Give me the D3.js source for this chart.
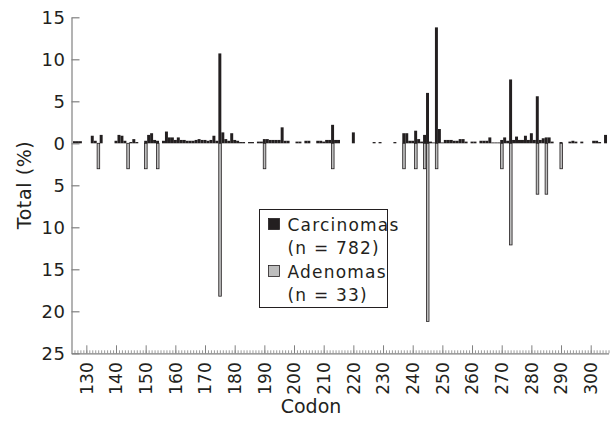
<!DOCTYPE html>
<html>
<head>
<meta charset="utf-8">
<script src="https://cdn.jsdelivr.net/npm/d3@7"></script>
<style>
	body { margin: 0; background: #fff; }
	text { font-family: 'DejaVu Sans', sans-serif; fill: #231f20; }
</style>
</head>
<body>
<div id="vis"></div>
<script>
// carcinomas (n = 782), % of mutations per codon
var carcCodons = [126, 127, 128, 132, 133, 135, 140, 141, 142, 143, 145, 146, 147,
	150, 151, 152, 153, 154, 156, 157, 158, 159, 160, 161, 162, 163, 164, 165, 166,
	167, 168, 169, 170, 171, 172, 173, 174, 175, 176, 177, 178, 179, 180, 181,
	182, 183, 185, 186, 188, 189, 190, 191, 192, 193, 194, 195, 196, 197, 198,
	201, 202, 204, 205, 208, 209, 210, 211, 212, 213, 214, 215, 220, 227, 229, 234,
	237, 238, 239, 240, 241, 242, 243, 244, 245, 246, 247, 248, 249, 250, 251, 252,
	253, 254, 255, 256, 257, 258, 260, 261, 263, 264, 265, 266, 267, 268, 269, 270,
	271, 272, 273, 274, 275, 276, 277, 278, 279, 280, 281, 282, 283, 284, 285, 286,
	287, 290, 293, 294, 295, 297, 301, 302, 303, 305];
var carcPct = [0.25, 0.25, 0.25, 0.9, 0.3, 1.0, 0.3, 1.0, 0.9, 0.3, 0.15, 0.5, 0.15,
	0.3, 1.0, 1.2, 0.4, 0.3, 0.3, 1.4, 0.7, 0.7, 0.4, 0.7, 0.4, 0.4, 0.3, 0.3, 0.3,
	0.4, 0.5, 0.4, 0.4, 0.3, 0.4, 0.9, 0.3, 10.7, 1.3, 0.5, 0.3, 1.2, 0.4, 0.3,
	0.15, 0.15, 0.15, 0.15, 0.2, 0.2, 0.5, 0.5, 0.4, 0.4, 0.4, 0.4, 1.9, 0.3, 0.3,
	0.2, 0.2, 0.3, 0.3, 0.3, 0.3, 0.2, 0.4, 0.4, 2.2, 0.4, 0.4, 1.3, 0.15, 0.15, 0.15,
	1.2, 1.2, 0.3, 0.3, 1.5, 0.5, 0.2, 1.0, 6.0, 0.2, 0.1, 13.8, 1.7, 0.1, 0.4, 0.4,
	0.4, 0.3, 0.3, 0.5, 0.5, 0.2, 0.2, 0.2, 0.3, 0.3, 0.3, 0.7, 0.1, 0.1, 0.1, 0.4,
	0.7, 0.3, 7.6, 0.4, 0.8, 0.4, 0.4, 0.9, 0.4, 1.2, 0.4, 5.6, 0.4, 0.6, 0.7, 0.7,
	0.2, 0.15, 0.2, 0.3, 0.2, 0.2, 0.3, 0.3, 0.15, 1.0];

// adenomas (n = 33), drawn downwards
var adenCodons = [134, 144, 150, 154, 175, 190, 213, 237, 241, 244, 245, 248, 270, 273, 282, 285, 290];
var adenPct = [3.03, 3.03, 3.03, 3.03, 18.2, 3.03, 3.03, 3.03, 3.03, 3.03, 21.2, 3.03, 3.03, 12.1, 6.06, 6.06, 3.03];

var yTicks = [15, 10, 5, 0, -5, -10, -15, -20, -25];
var xTicks = d3.range(130, 301, 10);
var legendLabels = [['Carcinomas', '(n = 782)'], ['Adenomas', '(n = 33)']];

var width = 612,
	height = 424;

var svg = d3.select('#vis')
	.append('svg')
	.attr('width', width)
	.attr('height', height);

var xScale = d3.scaleLinear()
	.domain([125, 306])
	.range([71.5, 608.5]);

var yScale = d3.scaleLinear()
	.domain([-25, 15])
	.range([353.3, 17.3]);

var axisColor = '#808080';

// bars
var carc = carcCodons.map(function(c, i) { return {codon: c, v: carcPct[i]}; });
var aden = adenCodons.map(function(c, i) { return {codon: c, v: adenPct[i]}; });

svg.append('g').selectAll('rect')
	.data(aden)
	.enter().append('rect')
	.attr('x', function(d) { return xScale(d.codon - 0.5) + 0.4; })
	.attr('width', function(d) { return xScale(d.codon + 0.5) - xScale(d.codon - 0.5) - 0.4; })
	.attr('y', yScale(0))
	.attr('height', function(d) { return yScale(-d.v) - yScale(0); })
	.attr('fill', '#bdbdbd')
	.attr('stroke', '#231f20')
	.attr('stroke-width', 0.8);

svg.append('g').selectAll('rect')
	.data(carc)
	.enter().append('rect')
	.attr('x', function(d) { return xScale(d.codon - 0.5); })
	.attr('width', function(d) { return xScale(d.codon + 0.5) - xScale(d.codon - 0.5); })
	.attr('y', function(d) { return yScale(d.v); })
	.attr('height', function(d) { return yScale(0) - yScale(d.v); })
	.attr('fill', '#231f20');

// y axis
var yAxis = d3.axisLeft(yScale)
	.tickValues(yTicks)
	.tickFormat(function(d) { return Math.abs(d); })
	.tickSizeInner(-8)
	.tickSizeOuter(0)
	.tickPadding(6);

var yAxisG = svg.append('g')
	.attr('transform', 'translate(' + xScale(125) + ',0)')
	.call(yAxis);
yAxisG.selectAll('path, line').attr('stroke', axisColor).attr('stroke-width', 1.2);
yAxisG.selectAll('text').attr('font-size', 18).attr('fill', '#231f20')
	.style('font-family', "'DejaVu Sans', sans-serif")
	.style('letter-spacing', '0.5px');

// x axis, minor ticks
var xMinor = d3.axisBottom(xScale)
	.tickValues(d3.range(126, 307))
	.tickFormat('')
	.tickSizeInner(-3)
	.tickSizeOuter(0);

var xMinorG = svg.append('g')
	.attr('transform', 'translate(0,' + yScale(-25) + ')')
	.call(xMinor);
xMinorG.selectAll('path, line').attr('stroke', axisColor).attr('stroke-width', 0.8);
xMinorG.select('path').attr('stroke-width', 1.2);

// x axis, major ticks
var xAxis = d3.axisBottom(xScale)
	.tickValues(xTicks)
	.tickSizeInner(-8)
	.tickSizeOuter(0);

var xAxisG = svg.append('g')
	.attr('transform', 'translate(0,' + yScale(-25) + ')')
	.call(xAxis);
xAxisG.select('path').remove();
xAxisG.selectAll('line').attr('stroke', axisColor).attr('stroke-width', 1);
xAxisG.selectAll('text')
	.attr('transform', 'rotate(-90)')
	.attr('x', -9)
	.attr('y', 0)
	.attr('dy', '0.35em')
	.attr('text-anchor', 'end')
	.attr('font-size', 17)
	.attr('fill', '#231f20')
	.style('font-family', "'DejaVu Sans', sans-serif");

// axis titles
svg.append('text')
	.attr('transform', 'translate(31,185) rotate(-90)')
	.attr('text-anchor', 'middle')
	.attr('font-size', 19)
	.style('letter-spacing', '0.6px')
	.text('Total (%)');

svg.append('text')
	.attr('x', 311)
	.attr('y', 413)
	.attr('text-anchor', 'middle')
	.attr('font-size', 19)
	.text('Codon');

// legend
var legend = svg.append('g')
	.attr('transform', 'translate(259.5,209.5)');

legend.append('rect')
	.attr('width', 128)
	.attr('height', 98)
	.attr('fill', '#fff')
	.attr('stroke', '#231f20')
	.attr('stroke-width', 1);

var legendFill = ['#231f20', '#bdbdbd'];

var item = legend.selectAll('.item')
	.data(legendLabels)
	.enter().append('g')
	.attr('class', 'item')
	.attr('transform', function(d, i) { return 'translate(0,' + (i * 47) + ')'; });

item.append('rect')
	.attr('x', 9)
	.attr('y', 9)
	.attr('width', 11)
	.attr('height', 11)
	.attr('fill', function(d, i) { return legendFill[i]; })
	.attr('stroke', '#231f20')
	.attr('stroke-width', 0.8);

item.append('text')
	.attr('x', 28)
	.attr('y', 21)
	.attr('font-size', 17)
	.style('letter-spacing', '1.2px')
	.text(function(d) { return d[0]; });

item.append('text')
	.attr('x', 28)
	.attr('y', 44)
	.attr('font-size', 17)
	.style('letter-spacing', '1.2px')
	.text(function(d) { return d[1]; });
</script>
</body>
</html>
